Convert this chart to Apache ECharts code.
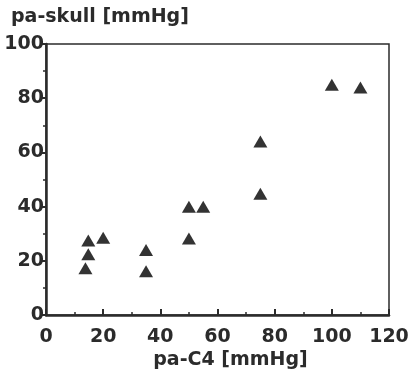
<!DOCTYPE html>
<html>
<head>
<meta charset="utf-8">
<script src="https://cdn.jsdelivr.net/npm/echarts@6/dist/echarts.min.js"></script>
<style>
    html, body { margin: 0; padding: 0; background: #fff; }
    #chart { width: 413px; height: 375px; }
</style>
</head>
<body>
<div id="chart"></div>
<script>
    // values
    var paC4 = [13.8, 14.8, 14.8, 20, 35, 35, 50, 50, 55, 75, 75, 100, 110];
    var paSkull = [17.3, 22.4, 27.5, 28.5, 24, 16.2, 28.3, 40, 40, 44.8, 64, 85, 84];
    var xTicks = [0, 20, 40, 60, 80, 100, 120];
    var yTicks = [0, 20, 40, 60, 80, 100];

    var points = paC4.map(function (x, i) { return [x, paSkull[i]]; });
    var ink = '#2b2b2b';
    var labelFont = { color: ink, fontFamily: 'DejaVu Sans', fontWeight: 'bold', fontSize: 19 };

    var chart = echarts.init(document.getElementById('chart'));
    var options = {
        backgroundColor: '#fff',
        animation: false,
        title: {
            text: 'pa-skull [mmHg]',
            left: 6,
            top: 3,
            textStyle: { color: ink, fontFamily: 'DejaVu Sans', fontWeight: 'bold', fontSize: 19 }
        },
        grid: {
            left: 46,
            right: 24,
            top: 44,
            bottom: 56,
            show: true,
            borderColor: ink,
            borderWidth: 1.5
        },
        xAxis: {
            type: 'value',
            min: xTicks[0],
            max: xTicks[xTicks.length - 1],
            interval: 20,
            name: 'pa-C4 [mmHg]',
            nameLocation: 'middle',
            nameGap: 33,
            nameTextStyle: Object.assign({}, labelFont, { fontSize: 19, padding: [0, 0, 0, 26] }),
            axisLine: { show: true, lineStyle: { color: ink, width: 2.5 } },
            axisTick: { show: true, inside: true, length: 6, lineStyle: { color: ink, width: 2 } },
            minorTick: { show: true, splitNumber: 2, length: 3, lineStyle: { color: ink, width: 1.5 } },
            axisLabel: Object.assign({ margin: 12 }, labelFont),
            splitLine: { show: false }
        },
        yAxis: {
            type: 'value',
            min: yTicks[0],
            max: yTicks[yTicks.length - 1],
            interval: 20,
            axisLine: { show: true, lineStyle: { color: ink, width: 2.5 } },
            axisTick: { show: true, inside: false, length: 4, lineStyle: { color: ink, width: 2 } },
            minorTick: { show: true, splitNumber: 2, length: 3, lineStyle: { color: ink, width: 1.5 } },
            axisLabel: Object.assign({ margin: 2 }, labelFont),
            splitLine: { show: false }
        },
        series: [
            {
                type: 'scatter',
                symbol: 'triangle',
                symbolSize: [14, 12],
                itemStyle: { color: '#333', opacity: 1 },
                data: points
            }
        ]
    };
    chart.setOption(options);
</script>
</body>
</html>
